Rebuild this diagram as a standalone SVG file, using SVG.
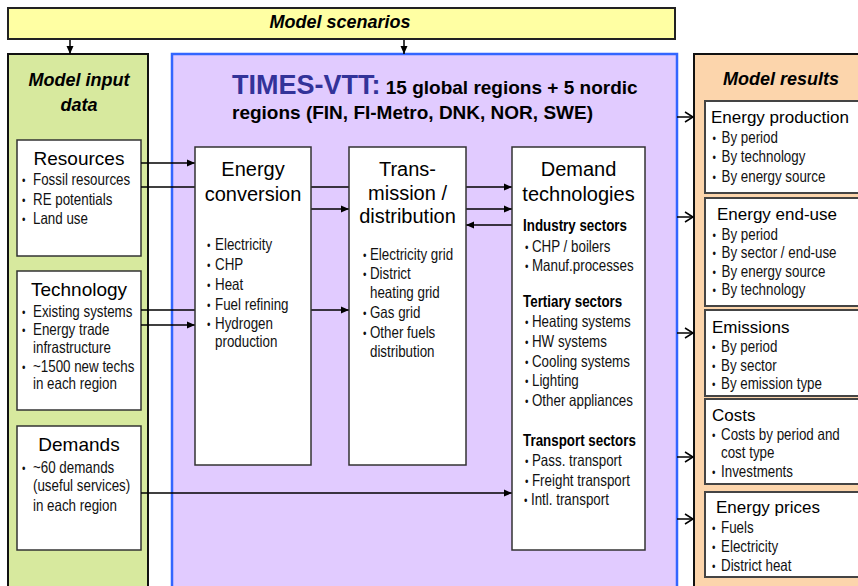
<svg xmlns="http://www.w3.org/2000/svg" width="858" height="586" viewBox="0 0 858 586">
<defs>
<style>
text{font-family:"Liberation Sans",Arial,sans-serif;fill:#000}
.it{font-weight:bold;font-style:italic;font-size:18px;text-anchor:middle}
.t19{font-size:19px;text-anchor:middle}
.t20{font-size:20px;text-anchor:middle}
.t17{font-size:17px}
.n{font-size:16.3px;fill:#111}
.nb{font-size:16.3px;font-weight:bold}
.b{font-size:12px}
.box{fill:#fff;stroke:#333;stroke-width:1.5}
.rbox{fill:#fff;stroke:#444;stroke-width:2}
.con{stroke:#000;stroke-width:1.5;fill:none}
</style>
<marker id="ah" markerUnits="userSpaceOnUse" markerWidth="10" markerHeight="10" viewBox="0 0 10 10" refX="9" refY="5" orient="auto">
<path d="M1,1.5 L9,5 L1,8.5 Z" fill="#000"/>
</marker>
<marker id="oh" markerUnits="userSpaceOnUse" markerWidth="12" markerHeight="12" viewBox="0 0 12 12" refX="10" refY="6" orient="auto">
<path d="M2,1 L10,6 L2,11" fill="none" stroke="#000" stroke-width="1.5"/>
</marker>
</defs>

<g id="scenarios">
<rect x="8" y="8" width="667" height="31" fill="#FFFFA3" stroke="#222" stroke-width="2"/>
<text class="it" x="340" y="28">Model scenarios</text>
</g>

<g id="input">
<rect x="8" y="54" width="140" height="560" fill="#D7E99E" stroke="#111" stroke-width="2"/>
<text class="it" x="79" y="86">Model input</text>
<text class="it" x="79" y="111">data</text>
</g>

<g id="times">
<rect x="172" y="54" width="505" height="560" fill="#E1CBFF" stroke="#3366FF" stroke-width="2.5"/>
<text x="232" y="94" font-weight="bold"><tspan font-size="27" fill="#333399">TIMES-VTT:</tspan><tspan font-size="19"> 15 global regions + 5 nordic</tspan></text>
<text x="232" y="119" font-weight="bold" font-size="19">regions (FIN, FI-Metro, DNK, NOR, SWE)</text>
</g>

<g id="results">
<rect x="694" y="54" width="180" height="560" fill="#FCD5AC" stroke="#111" stroke-width="2"/>
<text class="it" x="781" y="85">Model results</text>
</g>

<g id="resources">
<rect class="box" x="17" y="140" width="124" height="116"/>
<text class="t19" x="79" y="165">Resources</text>
<g transform="translate(22,0) scale(0.82,1)">
<text class="n" y="185"><tspan class="b" x="0">•</tspan><tspan x="13.4">Fossil resources</tspan></text>
<text class="n" y="205"><tspan class="b" x="0">•</tspan><tspan x="13.4">RE potentials</tspan></text>
<text class="n" y="224"><tspan class="b" x="0">•</tspan><tspan x="13.4">Land use</tspan></text>
</g>
</g>

<g id="technology">
<rect class="box" x="17" y="271" width="124" height="139"/>
<text class="t19" x="79" y="296">Technology</text>
<g transform="translate(22,0) scale(0.82,1)">
<text class="n" y="317"><tspan class="b" x="0">•</tspan><tspan x="13.4">Existing systems</tspan></text>
<text class="n" y="335"><tspan class="b" x="0">•</tspan><tspan x="13.4">Energy trade</tspan></text>
<text class="n" x="13.4" y="353">infrastructure</text>
<text class="n" y="372"><tspan class="b" x="0">•</tspan><tspan x="13.4">~1500 new techs</tspan></text>
<text class="n" x="13.4" y="389">in each region</text>
</g>
</g>

<g id="demands">
<rect class="box" x="17" y="426" width="124" height="124"/>
<text class="t19" x="79" y="451">Demands</text>
<g transform="translate(22,0) scale(0.82,1)">
<text class="n" y="473"><tspan class="b" x="0">•</tspan><tspan x="13.4">~60 demands</tspan></text>
<text class="n" x="13.4" y="491">(useful services)</text>
<text class="n" x="13.4" y="511">in each region</text>
</g>
</g>

<g id="connectors">
<line class="con" x1="70" y1="40" x2="70" y2="54" marker-end="url(#ah)"/>
<line class="con" x1="404" y1="40" x2="404" y2="54" marker-end="url(#ah)"/>
<line class="con" x1="141" y1="163" x2="195" y2="163" marker-end="url(#ah)"/>
<line class="con" x1="141" y1="187" x2="512" y2="187" marker-end="url(#ah)"/>
<line class="con" x1="311" y1="209" x2="349" y2="209" marker-end="url(#ah)"/>
<line class="con" x1="466" y1="209" x2="512" y2="209" marker-end="url(#ah)"/>
<line class="con" x1="512" y1="225" x2="466" y2="225" marker-end="url(#ah)"/>
<line class="con" x1="141" y1="310" x2="349" y2="310" marker-end="url(#ah)"/>
<line class="con" x1="141" y1="325" x2="195" y2="325" marker-end="url(#ah)"/>
<line class="con" x1="141" y1="493" x2="512" y2="493" marker-end="url(#ah)"/>
<line class="con" x1="677" y1="117" x2="693" y2="117" marker-end="url(#oh)"/>
<line class="con" x1="677" y1="217" x2="693" y2="217" marker-end="url(#oh)"/>
<line class="con" x1="677" y1="333" x2="693" y2="333" marker-end="url(#oh)"/>
<line class="con" x1="677" y1="457" x2="693" y2="457" marker-end="url(#oh)"/>
<line class="con" x1="677" y1="519" x2="693" y2="519" marker-end="url(#oh)"/>
</g>

<g id="conversion">
<rect class="box" x="195" y="147" width="116" height="318"/>
<text class="t20" x="253" y="176">Energy</text>
<text class="t20" x="253" y="201">conversion</text>
<g transform="translate(207,0) scale(0.82,1)">
<text class="n" y="250"><tspan class="b" x="0">•</tspan><tspan x="9.8">Electricity</tspan></text>
<text class="n" y="270"><tspan class="b" x="0">•</tspan><tspan x="9.8">CHP</tspan></text>
<text class="n" y="290"><tspan class="b" x="0">•</tspan><tspan x="9.8">Heat</tspan></text>
<text class="n" y="310"><tspan class="b" x="0">•</tspan><tspan x="9.8">Fuel refining</tspan></text>
<text class="n" y="329"><tspan class="b" x="0">•</tspan><tspan x="9.8">Hydrogen</tspan></text>
<text class="n" x="9.8" y="347">production</text>
</g>
</g>

<g id="transmission">
<rect class="box" x="349" y="147" width="117" height="318"/>
<text class="t20" x="407.5" y="176">Trans-</text>
<text class="t20" x="407.5" y="200">mission /</text>
<text class="t20" x="407.5" y="223">distribution</text>
<g transform="translate(363,0) scale(0.82,1)">
<text class="n" y="260"><tspan class="b" x="0">•</tspan><tspan x="8.5">Electricity grid</tspan></text>
<text class="n" y="279"><tspan class="b" x="0">•</tspan><tspan x="8.5">District</tspan></text>
<text class="n" x="8.5" y="298">heating grid</text>
<text class="n" y="318"><tspan class="b" x="0">•</tspan><tspan x="8.5">Gas grid</tspan></text>
<text class="n" y="338"><tspan class="b" x="0">•</tspan><tspan x="8.5">Other fuels</tspan></text>
<text class="n" x="8.5" y="357">distribution</text>
</g>
</g>

<g id="demandtech">
<rect class="box" x="512" y="147" width="133" height="403"/>
<text class="t20" x="578.5" y="176">Demand</text>
<text class="t20" x="578.5" y="201">technologies</text>
<g transform="translate(525,0) scale(0.82,1)">
<text class="nb" x="-2.4" y="231">Industry sectors</text>
<text class="n" y="252"><tspan class="b" x="0">•</tspan><tspan x="8.5">CHP / boilers</tspan></text>
<text class="n" y="271"><tspan class="b" x="0">•</tspan><tspan x="8.5">Manuf.processes</tspan></text>
<text class="nb" x="-2.4" y="307">Tertiary sectors</text>
<text class="n" y="327"><tspan class="b" x="0">•</tspan><tspan x="8.5">Heating systems</tspan></text>
<text class="n" y="347"><tspan class="b" x="0">•</tspan><tspan x="8.5">HW systems</tspan></text>
<text class="n" y="367"><tspan class="b" x="0">•</tspan><tspan x="8.5">Cooling systems</tspan></text>
<text class="n" y="386"><tspan class="b" x="0">•</tspan><tspan x="8.5">Lighting</tspan></text>
<text class="n" y="406"><tspan class="b" x="0">•</tspan><tspan x="8.5">Other appliances</tspan></text>
<text class="nb" x="-2.4" y="446">Transport sectors</text>
<text class="n" y="466"><tspan class="b" x="0">•</tspan><tspan x="8.5">Pass. transport</tspan></text>
<text class="n" y="486"><tspan class="b" x="0">•</tspan><tspan x="8.5">Freight transport</tspan></text>
<text class="n" y="505"><tspan class="b" x="-1.2">•</tspan><tspan x="7.3">Intl. transport</tspan></text>
</g>
</g>

<g id="production">
<rect class="rbox" x="705" y="101" width="170" height="92"/>
<text class="t17" x="711" y="123">Energy production</text>
<g transform="translate(712.5,0) scale(0.82,1)">
<text class="n" y="143"><tspan class="b" x="0">•</tspan><tspan x="11">By period</tspan></text>
<text class="n" y="162"><tspan class="b" x="0">•</tspan><tspan x="11">By technology</tspan></text>
<text class="n" y="182"><tspan class="b" x="0">•</tspan><tspan x="11">By energy source</tspan></text>
</g>
</g>

<g id="enduse">
<rect class="rbox" x="705" y="198" width="170" height="108"/>
<text class="t17" x="717" y="220">Energy end-use</text>
<g transform="translate(712.5,0) scale(0.82,1)">
<text class="n" y="240"><tspan class="b" x="0">•</tspan><tspan x="11">By period</tspan></text>
<text class="n" y="258"><tspan class="b" x="0">•</tspan><tspan x="11">By sector / end-use</tspan></text>
<text class="n" y="277"><tspan class="b" x="0">•</tspan><tspan x="11">By energy source</tspan></text>
<text class="n" y="295"><tspan class="b" x="0">•</tspan><tspan x="11">By technology</tspan></text>
</g>
</g>

<g id="emissions">
<rect class="rbox" x="705" y="310" width="170" height="86"/>
<text class="t17" x="712" y="333">Emissions</text>
<g transform="translate(712,0) scale(0.82,1)">
<text class="n" y="352"><tspan class="b" x="0">•</tspan><tspan x="11">By period</tspan></text>
<text class="n" y="371"><tspan class="b" x="0">•</tspan><tspan x="11">By sector</tspan></text>
<text class="n" y="389"><tspan class="b" x="0">•</tspan><tspan x="11">By emission type</tspan></text>
</g>
</g>

<g id="costs">
<rect class="rbox" x="705" y="399" width="170" height="85"/>
<text class="t17" x="712" y="421">Costs</text>
<g transform="translate(712,0) scale(0.82,1)">
<text class="n" y="440"><tspan class="b" x="0">•</tspan><tspan x="11">Costs by period and</tspan></text>
<text class="n" x="11" y="458">cost type</text>
<text class="n" y="477"><tspan class="b" x="0">•</tspan><tspan x="11">Investments</tspan></text>
</g>
</g>

<g id="prices">
<rect class="rbox" x="705" y="492" width="170" height="85"/>
<text class="t17" x="716" y="513">Energy prices</text>
<g transform="translate(712,0) scale(0.82,1)">
<text class="n" y="533"><tspan class="b" x="0">•</tspan><tspan x="11">Fuels</tspan></text>
<text class="n" y="552"><tspan class="b" x="0">•</tspan><tspan x="11">Electricity</tspan></text>
<text class="n" y="571"><tspan class="b" x="0">•</tspan><tspan x="11">District heat</tspan></text>
</g>
</g>
</svg>
